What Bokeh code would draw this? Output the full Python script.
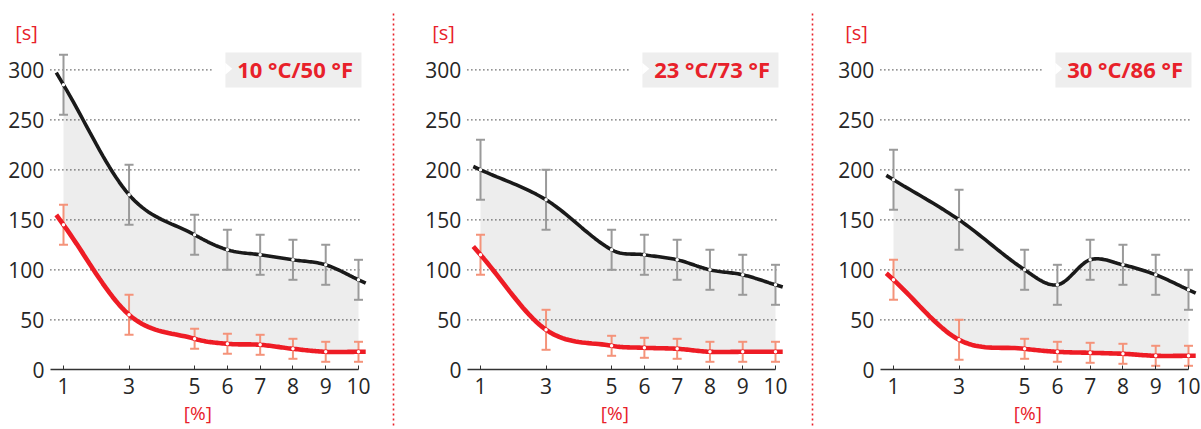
import numpy as np
from bokeh.plotting import figure
from bokeh.layouts import row
from bokeh.models import Range1d, LinearAxis, FixedTicker
from bokeh.core.properties import value
from bokeh.embed import file_html
from bokeh.resources import INLINE

# ---------------- data ----------------
concentration = [1, 3, 5, 6, 7, 8, 9, 10]          # [%]
y_ticks = [0, 50, 100, 150, 200, 250, 300]           # [s]
panel_titles = ["10 °C/50 °F", "23 °C/73 °F", "30 °C/86 °F"]

upper_10 = [285, 175, 135, 120, 115, 110, 105, 90]
upper_10_err = [30, 30, 20, 20, 20, 20, 20, 20]
lower_10 = [145, 55, 31, 26, 25, 21, 18, 18]
lower_10_err = [20, 20, 10, 10, 10, 10, 10, 10]

upper_23 = [200, 170, 120, 115, 110, 100, 95, 85]
upper_23_err = [30, 30, 20, 20, 20, 20, 20, 20]
lower_23 = [115, 40, 24, 22, 21, 18, 18, 18]
lower_23_err = [20, 20, 10, 10, 10, 10, 10, 10]

upper_30 = [190, 150, 100, 85, 110, 105, 95, 80]
upper_30_err = [30, 30, 20, 20, 20, 20, 20, 20]
lower_30 = [90, 30, 21, 18, 17, 16, 14, 14]
lower_30_err = [20, 20, 10, 10, 10, 10, 10, 10]

panels = [
    (panel_titles[0], upper_10, upper_10_err, lower_10, lower_10_err),
    (panel_titles[1], upper_23, upper_23_err, lower_23, lower_23_err),
    (panel_titles[2], upper_30, upper_30_err, lower_30, lower_30_err),
]

# ---------------- layout / style ----------------
RED = "#e8212a"
LINE_RED = "#ee1c25"
BLACK = "#1a1a1a"
GREY_BAR = "#9a9a9a"
RED_BAR = "#f4937a"
FILL = "#ededed"
TEXT = "#262626"
FONT = "Open Sans"

H = 428
SCALE = 295 / 9.0          # px per % unit
ZERO_Y = 369.3             # page y of value 0 (1 px per second)
fig_left = [0, 398, 815]
fig_width = [398, 417, 385]
x1_page = [63, 480, 893]
separators = [[393], [812], []]


def smooth(xs, ys, n=20, ext=0.22):
    xs = np.asarray(xs, float)
    ys = np.asarray(ys, float)
    m = np.empty_like(ys)
    m[1:-1] = (ys[2:] - ys[:-2]) / (xs[2:] - xs[:-2])
    m[0] = (ys[1] - ys[0]) / (xs[1] - xs[0])
    m[-1] = (ys[-1] - ys[-2]) / (xs[-1] - xs[-2])
    gx, gy = [], []
    for i in range(len(xs) - 1):
        h = xs[i + 1] - xs[i]
        t = np.linspace(0, 1, n, endpoint=(i == len(xs) - 2))
        h00 = 2 * t**3 - 3 * t**2 + 1
        h10 = t**3 - 2 * t**2 + t
        h01 = -2 * t**3 + 3 * t**2
        h11 = t**3 - t**2
        gx.append(xs[i] + t * h)
        gy.append(h00 * ys[i] + h10 * h * m[i] + h01 * ys[i + 1] + h11 * h * m[i + 1])
    gx = np.concatenate(gx)
    gy = np.concatenate(gy)
    lx = np.concatenate([[xs[0] - ext], gx, [xs[-1] + ext]])
    ly = np.concatenate([[ys[0] - ext * m[0]], gy, [ys[-1] + ext * m[-1]]])
    return gx, gy, lx, ly


figs = []
for k, (title, up, up_err, lo, lo_err) in enumerate(panels):
    xs0 = 1 - (x1_page[k] - fig_left[k]) / SCALE
    xs1 = xs0 + fig_width[k] / SCALE
    ytop = ZERO_Y
    ybot = ZERO_Y - H
    p = figure(width=fig_width[k], height=H, output_backend="svg", toolbar_location=None,
               x_range=Range1d(xs0, xs1), y_range=Range1d(ybot, ytop),
               x_axis_location=None, y_axis_location=None, min_border=0)
    p.outline_line_color = None
    p.background_fill_color = "white"
    p.border_fill_color = "white"
    p.grid.visible = False

    bx, by_up, lx_up, ly_up = smooth(concentration, up)
    _, by_lo, lx_lo, ly_lo = smooth(concentration, lo)

    p.varea(x=bx, y1=by_lo, y2=by_up, fill_color=FILL)

    gy_vals = y_ticks[1:]
    gx1 = [5.57 if v == max(y_ticks) else 10.09 for v in gy_vals]
    p.segment(x0=[0.6] * len(gy_vals), y0=gy_vals, x1=gx1, y1=gy_vals,
              line_color="#1a1a1a", line_width=1.3, line_dash="1 3")

    for vals, errs, col in ((up, up_err, GREY_BAR), (lo, lo_err, RED_BAR)):
        hi = [v + e for v, e in zip(vals, errs)]
        lw = [v - e for v, e in zip(vals, errs)]
        p.segment(x0=concentration, y0=lw, x1=concentration, y1=hi, line_color=col, line_width=2)
        p.scatter(x=concentration + concentration, y=hi + lw, marker="dash", size=9,
                  line_color=col, line_width=2)

    p.line(lx_up, ly_up, line_color=BLACK, line_width=3.6)
    p.line(lx_lo, ly_lo, line_color=LINE_RED, line_width=4.6)
    p.scatter(x=concentration, y=up, size=3.4, fill_color="white", line_color=None)
    p.scatter(x=concentration, y=lo, size=3.4, fill_color="white", line_color=None)

    p.quad(left=[5.94], right=[10.09], bottom=[ZERO_Y - 87], top=[ZERO_Y - 52],
           fill_color="#eeeeee", line_color=None)
    p.patch(x=[5.935, 6.15, 5.935], y=[307, 301, 295], fill_color="white", line_color=None)
    p.text(x=[6.30], y=[301], text=[title], text_font=value(FONT), text_font_size="22px",
           text_font_style="bold", text_color=RED, text_align="left", text_baseline="middle")

    p.text(x=[1 - 37 / SCALE], y=[ZERO_Y - 32], text=["[s]"], text_font=value(FONT),
           text_font_size="20px", text_color=RED, text_align="center", text_baseline="middle")
    p.text(x=[5.1], y=[-43], text=["[%]"], text_font=value(FONT),
           text_font_size="19px", text_color=RED, text_align="center", text_baseline="middle")

    for sp in separators[k]:
        sx = xs0 + (sp - fig_left[k]) / SCALE
        p.segment(x0=[sx], y0=[ZERO_Y - 13], x1=[sx], y1=[ybot], line_color=RED,
                  line_width=1.6, line_dash="2 3")

    xaxis = LinearAxis(fixed_location=0, ticker=FixedTicker(ticks=concentration),
                       bounds=(0.6, 10))
    xaxis.axis_line_color = "#333333"
    xaxis.axis_line_width = 1.5
    xaxis.major_tick_in = 4
    xaxis.major_tick_out = 0
    xaxis.major_tick_line_color = "#333333"
    xaxis.major_tick_line_width = 1
    xaxis.minor_tick_line_color = None
    xaxis.major_label_standoff = 8
    xaxis.major_label_text_font = FONT
    xaxis.major_label_text_font_size = "21px"
    xaxis.major_label_text_color = TEXT
    p.add_layout(xaxis, "below")

    yaxis = LinearAxis(fixed_location=0.6, ticker=FixedTicker(ticks=y_ticks))
    yaxis.axis_line_color = None
    yaxis.major_tick_line_color = None
    yaxis.minor_tick_line_color = None
    yaxis.major_tick_in = 0
    yaxis.major_tick_out = 0
    yaxis.major_label_standoff = 6
    yaxis.major_label_text_font = FONT
    yaxis.major_label_text_font_size = "21px"
    yaxis.major_label_text_color = TEXT
    p.add_layout(yaxis, "left")

    figs.append(p)

layout = row(*figs)
open("out.html", "w").write(file_html(layout, INLINE))
